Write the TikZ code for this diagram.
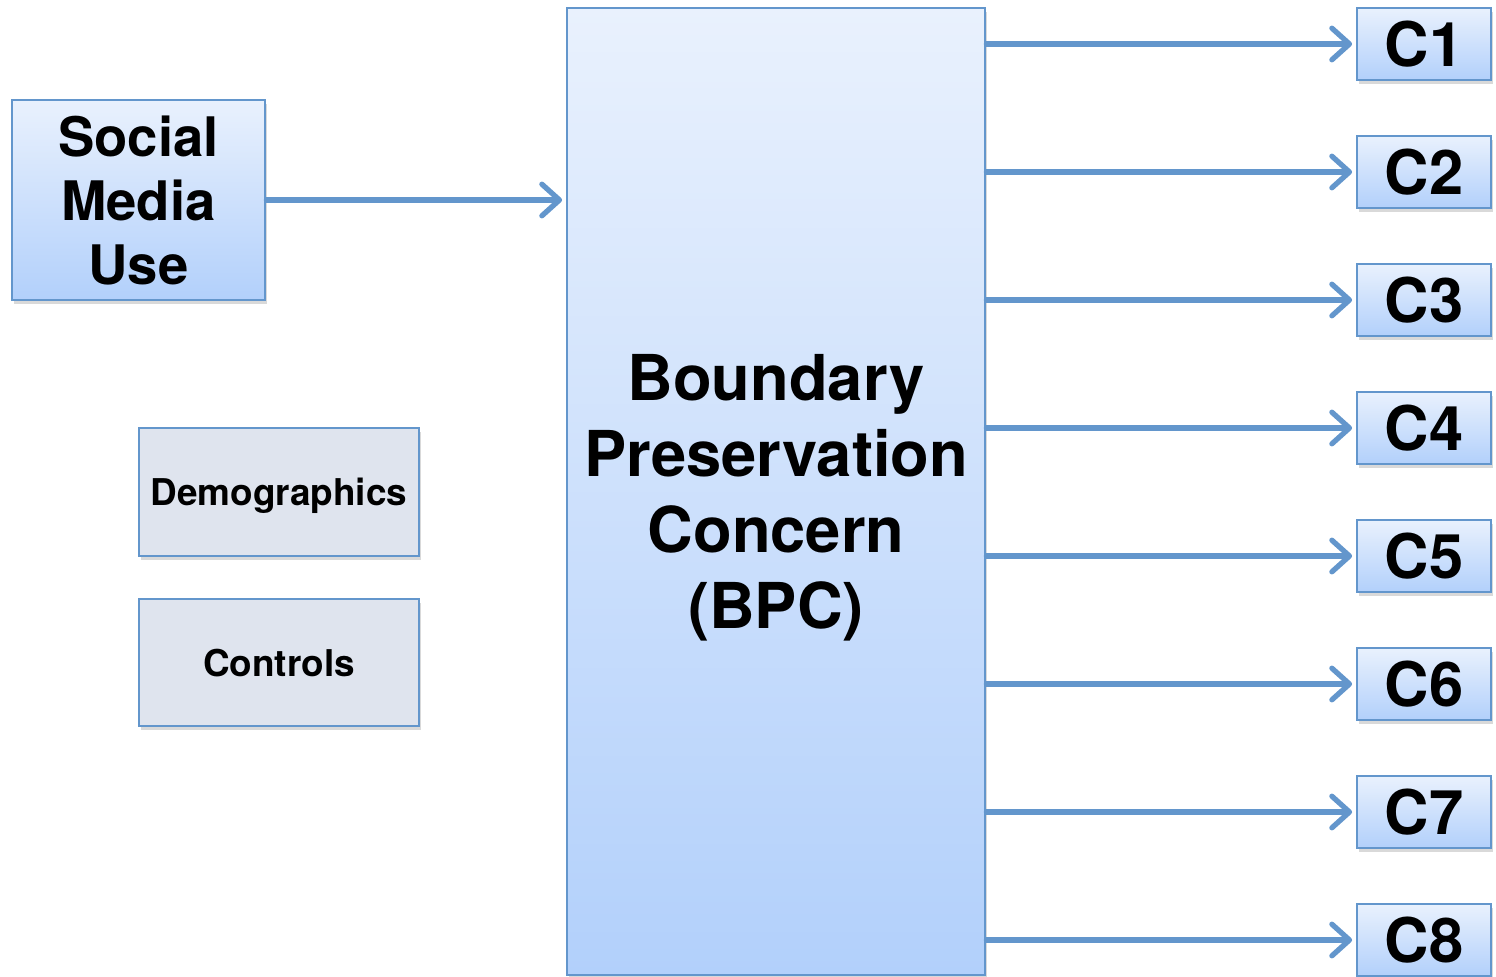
\documentclass[tikz,border=0pt]{standalone}
\usepackage{fontspec}
\setmainfont{TeX Gyre Heros}
\usepackage{tikz}
\usetikzlibrary{arrows.meta}
\usetikzlibrary{shadows}

\definecolor{edgeblue}{HTML}{6396CC}
\definecolor{topblue}{HTML}{E9F1FD}
\definecolor{botblue}{HTML}{B2D0FB}
\definecolor{greyfill}{HTML}{DFE4EE}

\tikzset{
  box/.style={draw=edgeblue, line width=0.8pt, inner sep=0pt, align=center,
    font=\bfseries, drop shadow={opacity=0.3, shadow xshift=0.6pt, shadow yshift=-1.2pt}},
  bluebox/.style={box, top color=topblue, bottom color=botblue},
  greybox/.style={box, fill=greyfill},
  link/.style={draw=edgeblue, line width=1.5pt, line cap=round,
    -{Straight Barb[length=5pt, width=9pt, round]}}
}

\begin{document}
\begin{tikzpicture}
\useasboundingbox (0, 0) rectangle (14.96, -9.76);

\node [bluebox, minimum width=2.53cm, minimum height=2.00cm, text depth=-1.5pt,
  font=\bfseries\fontsize{15.5}{18.2}\selectfont] (smu) at (1.385, -2.00) {Social\\Media\\Use};
\node [greybox, minimum width=2.80cm, minimum height=1.28cm, text depth=0pt,
  font=\bfseries\fontsize{10.5}{12}\selectfont] (demo) at (2.79, -4.92) {Demographics};
\node [greybox, minimum width=2.80cm, minimum height=1.27cm, text depth=0pt,
  font=\bfseries\fontsize{10.5}{12}\selectfont] (ctrl) at (2.79, -6.625) {Controls};

\node [bluebox, minimum width=4.18cm, minimum height=9.67cm, text depth=0pt,
  font=\bfseries\fontsize{18}{21.6}\selectfont] (bpc) at (7.76, -4.915)
  {Boundary\\Preservation\\Concern\\(BPC)};

\foreach \i in {1,...,8} {
  \node [bluebox, minimum width=1.34cm, minimum height=0.72cm,
    font=\bfseries\fontsize{17.5}{20}\selectfont] (c\i) at (14.24, {-0.44-1.28*(\i-1)}) {C\i};
  \draw [link] (bpc.east |- c\i.west) -- ([xshift=-1pt]c\i.west);
}

\draw [link] (smu.east) -- ([xshift=-1pt]smu.east -| bpc.west);

\end{tikzpicture}
\end{document}
